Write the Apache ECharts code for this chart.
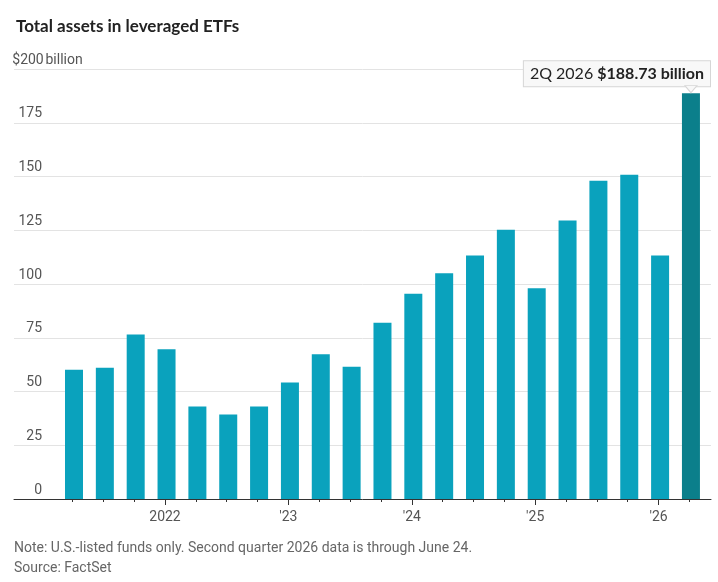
<!DOCTYPE html>
<html>
<head>
<meta charset="utf-8">
<script src="https://cdn.jsdelivr.net/npm/echarts@6/dist/echarts.min.js"></script>
<style>
html,body{margin:0;padding:0;background:#fff;}
#chart{width:718px;height:582px;}
</style>
</head>
<body>
<div id="chart"></div>
<script>
// Quarterly categories, 2Q 2021 .. 2Q 2026
const quarters = ['2Q 2021','3Q 2021','4Q 2021','1Q 2022','2Q 2022','3Q 2022','4Q 2022','1Q 2023','2Q 2023','3Q 2023','4Q 2023','1Q 2024','2Q 2024','3Q 2024','4Q 2024','1Q 2025','2Q 2025','3Q 2025','4Q 2025','1Q 2026','2Q 2026'];
// Total assets, $ billion
const assets = [60.1, 61.0, 76.5, 69.6, 43.0, 39.3, 43.0, 54.2, 67.3, 61.5, 82.0, 95.5, 105.0, 113.3, 125.2, 98.0, 129.5, 148.0, 150.8, 113.3, 188.73];
// X tick labels (year markers) by category index
const yearLabelIdx = [3, 7, 11, 15, 19];
const yearLabels = ['2022', "'23", "'24", "'25", "'26"];
// Y tick labels
const yTicks = [0, 25, 50, 75, 100, 125, 150, 175, 200];

const NARROW = "Roboto, sans-serif";
const FONT = "Lato, 'Open Sans', sans-serif";

const barData = assets.map((v, i) => {
  const d = { value: [i, v] };
  if (i === assets.length - 1) {
    d.itemStyle = { color: '#0b7f8b' };
    d.label = {
      show: true,
      position: 'top',
      offset: [-74, -2],
      formatter: '{a|' + quarters[i] + ' }{b|$' + v.toFixed(2) + ' billion}',
      backgroundColor: '#f8f8f8',
      borderColor: '#d6d6d6',
      borderWidth: 1,
      padding: [5, 6, 4, 6],
      rich: {
        a: { fontFamily: FONT, fontSize: 16, color: '#222' },
        b: { fontFamily: FONT, fontSize: 16, fontWeight: 'bold', color: '#222' }
      }
    };
  }
  return d;
});

const tickIdx = quarters.map((q, i) => i - 0.05);
const majorIdx = yearLabelIdx.map(i => i - 0.05);

const chart = echarts.init(document.getElementById('chart'), null, { renderer: 'canvas' });
chart.setOption({
  animation: false,
  backgroundColor: '#ffffff',
  title: {
    text: 'Total assets in leveraged ETFs',
    left: 11, top: 13,
    textStyle: { fontFamily: FONT, fontSize: 17, fontWeight: 'bold', color: '#222' }
  },
  grid: { left: 14, right: 7, top: 69, bottom: 83, containLabel: false },
  xAxis: [
    {
      type: 'value', min: -1.945, max: 20.65,
      axisLine: { show: true, lineStyle: { color: '#333', width: 1 } },
      splitLine: { show: false },
      axisTick: { show: true, customValues: tickIdx, length: 3, lineStyle: { color: '#333' } },
      axisLabel: { show: false }
    },
    {
      type: 'value', min: -1.945, max: 20.65, position: 'bottom',
      axisLine: { show: false },
      splitLine: { show: false },
      axisTick: { show: true, customValues: majorIdx, length: 6, lineStyle: { color: '#333' } },
      axisLabel: {
        show: true, customValues: majorIdx, margin: 11,
        fontFamily: NARROW, fontSize: 14, color: '#555',
        formatter: v => {
          const k = yearLabelIdx.indexOf(Math.round(v));
          return k >= 0 ? yearLabels[k] : '';
        }
      }
    }
  ],
  yAxis: {
    type: 'value', min: 0, max: 200, interval: 25,
    axisLine: { show: false }, axisTick: { show: false },
    splitLine: { show: true, lineStyle: { color: '#e3e3e3', width: 1 } },
    axisLabel: {
      inside: true, align: 'left', verticalAlign: 'bottom', margin: 0,
      padding: [0, 0, 2, 0],
      formatter: v => v === 200 ? '{n|$' + v + '}{s| billion}' : '{n|' + v + '}',
      rich: {
        n: { fontFamily: NARROW, fontSize: 14, color: '#555', width: 28, align: 'right' },
        s: { fontFamily: NARROW, fontSize: 14, color: '#555' }
      }
    }
  },
  series: [
    {
      type: 'bar',
      xAxisIndex: 0,
      barWidth: 18,
      itemStyle: { color: '#0aa2bd' },
      data: barData,
      markPoint: {
        silent: true,
        symbol: 'triangle', symbolRotate: 180, symbolSize: [12, 7],
        symbolOffset: [0, -4],
        itemStyle: { color: '#f8f8f8', borderColor: '#d6d6d6', borderWidth: 1 },
        label: { show: false },
        data: [{ coord: [assets.length - 1, assets[assets.length - 1]] }]
      }
    }
  ],
  graphic: [
    { type: 'text', left: 14, top: 541, style: { text: 'Note: U.S.-listed funds only. Second quarter 2026 data is through June 24.', fontFamily: NARROW, fontSize: 14, fill: '#666' } },
    { type: 'text', left: 14, top: 561, style: { text: 'Source: FactSet', fontFamily: NARROW, fontSize: 14, fill: '#666' } }
  ]
});
</script>
</body>
</html>
